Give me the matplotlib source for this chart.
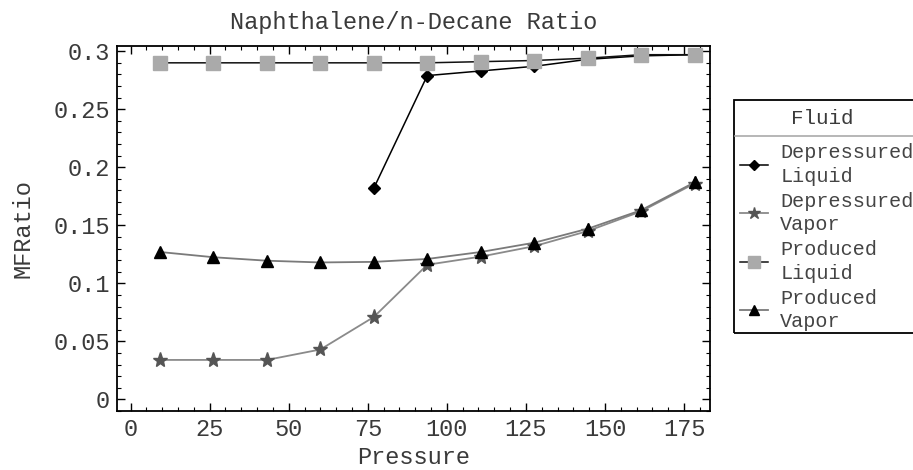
import matplotlib
matplotlib.use("Agg")
import matplotlib.pyplot as plt
from matplotlib.ticker import MultipleLocator, FuncFormatter
from matplotlib.lines import Line2D
from matplotlib.patches import Rectangle

plt.rcParams["font.family"] = ["Liberation Mono", "DejaVu Sans Mono"]

# pressure steps (same for all series)
pressure = [9.3, 26.2, 43.1, 60.0, 76.9, 93.8, 110.7, 127.6, 144.5, 161.4, 178.3]

dep_liquid_p = [76.9, 93.8, 110.7, 127.6, 144.5, 161.4, 178.3]
dep_liquid = [0.182, 0.279, 0.283, 0.287, 0.293, 0.296, 0.297]
dep_vapor = [0.034, 0.034, 0.034, 0.043, 0.071, 0.116, 0.123, 0.132, 0.145, 0.162, 0.186]
prod_liquid = [0.290, 0.290, 0.290, 0.290, 0.290, 0.290, 0.291, 0.292, 0.294, 0.297, 0.297]
prod_vapor = [0.127, 0.1225, 0.1195, 0.118, 0.1185, 0.121, 0.127, 0.135, 0.147, 0.163, 0.187]

labels = ["Depressured\nLiquid", "Depressured\nVapor", "Produced\nLiquid", "Produced\nVapor"]

txt = "#3a3a3a"
W, H = 913, 470

fig = plt.figure(figsize=(9.13, 4.70), dpi=100)
ax = fig.add_axes([117 / W, 1 - 411 / H, (710 - 117) / W, (411 - 46) / H])

h1, = ax.plot(dep_liquid_p, dep_liquid, color="black", lw=1.1, marker="D",
              ms=6, mfc="black", mec="black")
h2, = ax.plot(pressure, dep_vapor, color="#8a8a8a", lw=1.3, marker="*",
              ms=11, mfc="#555555", mec="#555555")
h3, = ax.plot(pressure, prod_liquid, color="#111111", lw=1.1, marker="s",
              ms=10, mfc="#aaaaaa", mec="#aaaaaa", zorder=3)
h4, = ax.plot(pressure, prod_vapor, color="#7a7a7a", lw=1.3, marker="^",
              ms=9, mfc="black", mec="black")

ax.set_xlim(-4.3, 183.2)
ax.set_ylim(-0.010, 0.3045)
ax.xaxis.set_major_locator(MultipleLocator(25))
ax.xaxis.set_minor_locator(MultipleLocator(5))
ax.yaxis.set_major_locator(MultipleLocator(0.05))
ax.yaxis.set_minor_locator(MultipleLocator(0.01))
ax.yaxis.set_major_formatter(FuncFormatter(lambda v, p: "%g" % round(v, 3)))
ax.tick_params(which="both", direction="in", top=True, right=True,
               labelsize=17, labelcolor=txt, pad=5)
ax.tick_params(which="major", length=6, width=1)
ax.tick_params(which="minor", length=3, width=0.8)
for s in ax.spines.values():
    s.set_linewidth(1.3)

ax.set_title("Naphthalene/n-Decane Ratio", fontsize=17, color=txt, pad=12)
ax.set_xlabel("Pressure", fontsize=17, color=txt, labelpad=4)
ax.set_ylabel("MFRatio", fontsize=17, color=txt, labelpad=14)

# legend box drawn by hand: frame, title, separator, then entries
fig.add_artist(Rectangle((734 / W, 1 - 333 / H), 200 / W, (333 - 100) / H,
                         transform=fig.transFigure, fill=False,
                         edgecolor="black", lw=1.3))
fig.text(822 / W, 1 - 119 / H, "Fluid", fontsize=15, color=txt,
         ha="center", va="center")
fig.add_artist(Line2D([735 / W, 1], [1 - 136 / H, 1 - 136 / H],
                      color="#aaaaaa", lw=1.2, transform=fig.transFigure))

leg = fig.legend([h1, h2, h3, h4], labels, frameon=False,
                 loc="upper left", bbox_to_anchor=(736 / W, 1 - 139 / H),
                 borderaxespad=0, fontsize=14.5,
                 handlelength=1.4, handletextpad=0.6, labelspacing=0.3,
                 borderpad=0.2, markerscale=0.8)
for t in leg.get_texts():
    t.set_color("#444444")
    t.set_linespacing(1.3)

fig.savefig("out.png", dpi=100)
